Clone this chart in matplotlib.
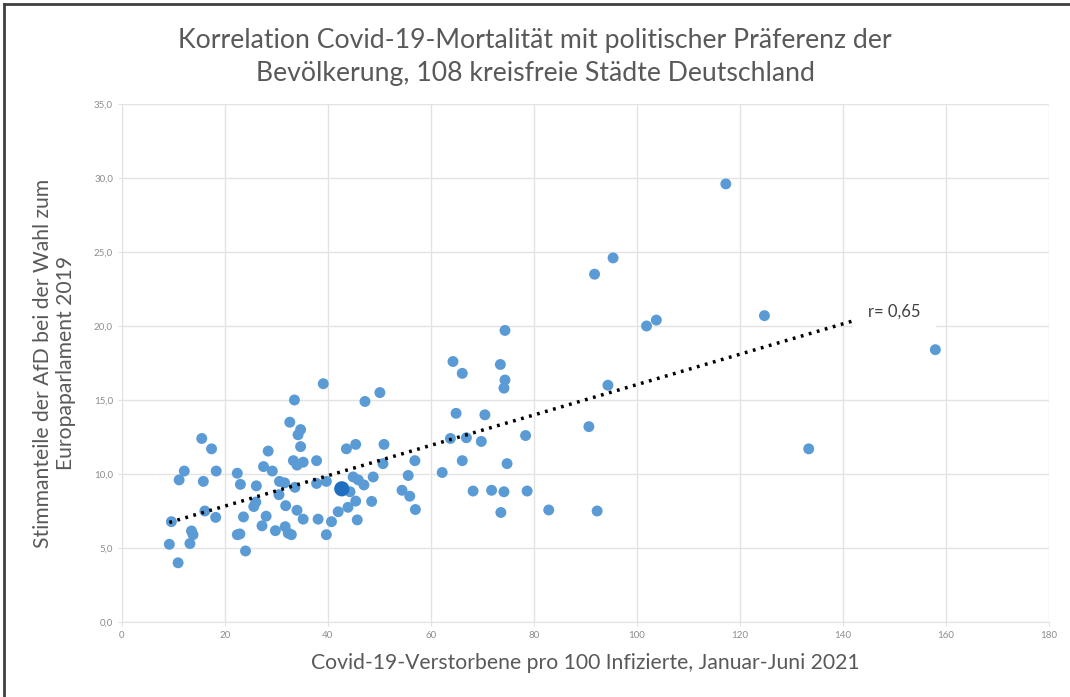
import matplotlib.pyplot as plt
import numpy as np
from matplotlib.lines import Line2D
from matplotlib.ticker import FuncFormatter

plt.rcParams['font.family'] = ['Lato', 'DejaVu Sans']

# Covid-19-Verstorbene pro 100 Infizierte
mortalitaet = [9.2, 9.6, 10.9, 11.1, 12.1, 13.2, 13.5, 13.8, 15.5, 15.8,
               16.1, 17.4, 18.2, 18.3, 22.4, 22.4, 22.9, 23.0, 23.6, 24.0,
               25.6, 26.0, 26.1, 27.2, 27.5, 28.0, 28.4, 29.2, 29.8, 30.5,
               30.6, 31.6, 31.8, 31.7, 32.3, 32.9, 32.6, 33.5, 33.3, 33.6,
               34.0, 34.2, 34.7, 34.7, 34.0, 35.2, 35.2, 37.8, 37.8, 38.1,
               39.1, 39.7, 39.7, 40.7, 42.7, 42.0, 43.6, 43.9, 44.3, 44.9,
               45.4, 45.4, 45.7, 45.9, 47.0, 47.2, 48.5, 48.8, 50.1, 50.7,
               50.9, 54.4, 55.6, 55.9, 56.9, 57.0, 62.2, 63.8, 64.3, 64.9,
               66.1, 66.1, 66.9, 68.2, 69.8, 70.5, 71.8, 73.5, 73.6, 74.2,
               74.2, 74.4, 74.4, 74.8, 78.4, 78.7, 82.9, 90.7, 91.8, 92.3,
               94.4, 95.4, 101.9, 103.8, 117.3, 124.8, 133.4, 158.0]
# AfD-Stimmanteil Europawahl 2019
afd = [5.25, 6.78, 4.0, 9.6, 10.2, 5.3, 6.15, 5.9, 12.4, 9.5,
       7.5, 11.7, 7.07, 10.2, 10.05, 5.9, 5.95, 9.3, 7.1, 4.8,
       7.8, 8.1, 9.2, 6.5, 10.5, 7.15, 11.55, 10.2, 6.17, 8.6,
       9.5, 9.4, 7.86, 6.44, 6.0, 5.9, 13.5, 15.0, 10.9, 9.1,
       7.55, 12.65, 13.0, 11.85, 10.6, 10.8, 6.95, 10.9, 9.36, 6.95,
       16.1, 9.5, 5.9, 6.78, 9.0, 7.45, 11.7, 7.75, 8.8, 9.8,
       12.0, 8.17, 6.9, 9.6, 9.26, 14.9, 8.15, 9.8, 15.5, 10.7,
       12.0, 8.9, 9.9, 8.5, 10.9, 7.6, 10.1, 12.4, 17.6, 14.1,
       16.8, 10.9, 12.45, 8.85, 12.2, 14.0, 8.9, 17.4, 7.4, 8.8,
       15.8, 16.35, 19.7, 10.7, 12.6, 8.85, 7.57, 13.2, 23.5, 7.5,
       16.0, 24.6, 20.0, 20.4, 29.6, 20.7, 11.7, 18.4]
highlight = 54  # dunkler markierter Punkt

x = np.array(mortalitaet)
y = np.array(afd)

fig = plt.figure(figsize=(10.7, 6.97), dpi=100)
ax = fig.add_axes([0.114, 0.1076, 0.866, 0.7432])

ax.scatter(x, y, s=62, color="#5B9BD5", edgecolors="none", zorder=3)
ax.scatter(x[highlight], y[highlight], s=120, color="#1F6FC0", edgecolors="none", zorder=4)

k, m = np.polyfit(x, y, 1)
xl = np.array([x.min(), x.max()])
ax.plot(xl, k * xl + m, color="black", linewidth=2.5, linestyle=(0, (0.8, 1.6)), zorder=5)

ax.text(145, 21.0, "r= 0,65", fontsize=12, color="#404040", ha="left", va="center", zorder=6,
        bbox=dict(boxstyle="square,pad=0.9", facecolor="white", edgecolor="none"))

ax.set_xlim(0, 180)
ax.set_ylim(0, 35)
ax.set_xticks(np.arange(0, 181, 20))
ax.set_yticks(np.arange(0, 36, 5))
ax.yaxis.set_major_formatter(FuncFormatter(lambda v, p: f"{v:.1f}".replace(".", ",")))
ax.grid(True, color="#E3E3E3", linewidth=1)
ax.set_axisbelow(True)
for s in ["top", "right"]:
    ax.spines[s].set_visible(False)
for s in ["left", "bottom"]:
    ax.spines[s].set_color("#E3E3E3")
ax.tick_params(colors="#8C8C8C", labelsize=7, length=3, color="#E3E3E3")

ax.set_xlabel("Covid-19-Verstorbene pro 100 Infizierte, Januar-Juni 2021", fontsize=15.2, color="#595959", labelpad=9)
ax.set_ylabel("Stimmanteile der AfD bei der Wahl zum\nEuropaparlament 2019", fontsize=15.2, color="#595959",
              labelpad=13, linespacing=1.2)

fig.suptitle("Korrelation Covid-19-Mortalität mit politischer Präferenz der\nBevölkerung, 108 kreisfreie Städte Deutschland",
             fontsize=19.2, color="#595959", y=0.96, linespacing=1.4)

# Rahmen links und oben
fig.add_artist(Line2D([4 / 1070, 4 / 1070], [0, 1 - 4 / 697], transform=fig.transFigure, color="#404040", linewidth=2))
fig.add_artist(Line2D([4 / 1070, 1], [1 - 4 / 697, 1 - 4 / 697], transform=fig.transFigure, color="#404040", linewidth=2))

fig.savefig("out.png", dpi=100)
